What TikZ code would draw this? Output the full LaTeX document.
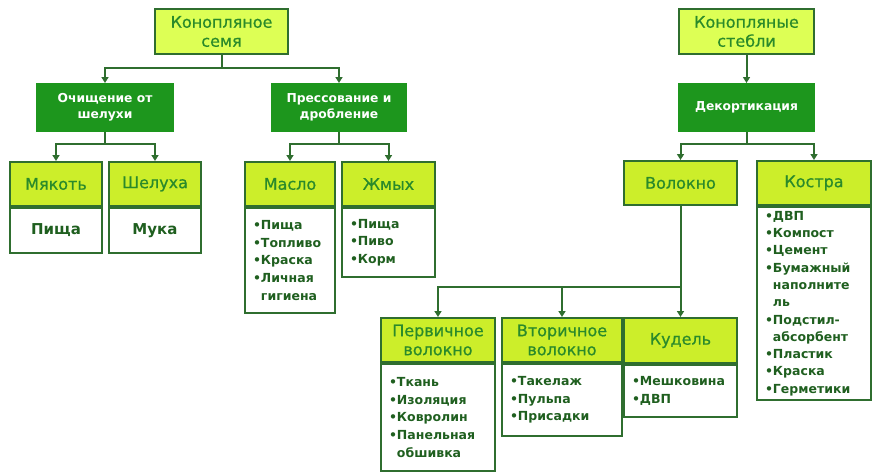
\documentclass[tikz,border=0pt]{standalone}
\usepackage{fontspec}
\setmainfont{DejaVu Sans}
\newfontfamily\hdrf[FakeBold=0.7]{DejaVu Sans}
\usetikzlibrary{arrows.meta}
\definecolor{bord}{HTML}{2F6E2F}
\definecolor{topfill}{HTML}{DDFF55}
\definecolor{hdrfill}{HTML}{CCEE2A}
\definecolor{procfill}{HTML}{1D961D}
\definecolor{hdrtext}{HTML}{2A8A2A}
\definecolor{bodytext}{HTML}{1F5F1F}
\newcommand\bl{•}
\newcommand\ind{\hphantom{•}}
\tikzset{
  boxbase/.style={anchor=north west, inner sep=0pt, line width=2pt},
  topbox/.style={boxbase, draw=bord, fill=topfill, text=hdrtext, align=center,
    font=\hdrf\fontsize{16}{19}\selectfont},
  procbox/.style={boxbase, draw=procfill, fill=procfill, text=white, align=center,
    font=\fontsize{12.3}{16.5}\selectfont\bfseries},
  hdrbox/.style={boxbase, draw=bord, fill=hdrfill, text=hdrtext, align=center,
    font=\hdrf\fontsize{16}{19}\selectfont},
  listbox/.style={boxbase, draw=bord, fill=white, text=bodytext, align=left,
    inner xsep=8pt, font=\fontsize{12.5}{17.6}\selectfont\bfseries},
  simplebox/.style={boxbase, draw=bord, fill=white, text=bodytext, align=center,
    font=\fontsize{15}{18}\selectfont\bfseries},
  conn/.style={draw=bord, line width=2pt},
  arr/.style={conn, -{Triangle[length=6pt,width=7pt]}},
}
\begin{document}
\begin{tikzpicture}[x=1pt,y=-1pt]
\useasboundingbox[fill=white] (0,0) rectangle (879,474);

% top level
\node[topbox, minimum width=133pt, minimum height=45pt] (seed) at (154,8) {Конопляное\\семя};
\node[topbox, minimum width=135pt, minimum height=45pt] (stem) at (678,8) {Конопляные\\стебли};

% process boxes
\node[procbox, minimum width=136pt, minimum height=47pt] (clean) at (36,83) {Очищение от\\шелухи};
\node[procbox, minimum width=134pt, minimum height=47pt] (press) at (271,83) {Прессование и\\дробление};
\node[procbox, minimum width=135pt, minimum height=47pt] (decort) at (678,83) {Декортикация};

% products of seed
\node[hdrbox, minimum width=92pt, minimum height=44pt] (myak) at (9,161) {Мякоть};
\node[simplebox, minimum width=92pt, minimum height=45pt] (myakb) at (myak.south west) {Пища};
\node[hdrbox, minimum width=92pt, minimum height=44pt] (shel) at (108,161) {Шелуха};
\node[simplebox, minimum width=92pt, minimum height=45pt] (shelb) at (shel.south west) {Мука};

\node[hdrbox, minimum width=90pt, minimum height=44pt] (maslo) at (244,161) {Масло};
\node[listbox, text width=74pt, minimum height=105pt] (maslob) at (maslo.south west)
  {\bl Пища\\ \bl Топливо\\ \bl Краска\\ \bl Личная\\ \ind гигиена};
\node[hdrbox, minimum width=93pt, minimum height=44pt] (zhmyh) at (341,161) {Жмых};
\node[listbox, text width=77pt, minimum height=69pt] (zhmyhb) at (zhmyh.south west)
  {\bl Пища\\ \bl Пиво\\ \bl Корм};

% products of stems
\node[hdrbox, minimum width=113pt, minimum height=44pt] (vol) at (623,160) {Волокно};
\node[hdrbox, minimum width=114pt, minimum height=44pt] (kostra) at (756,160) {Костра};
\node[listbox, text width=98pt, minimum height=193pt, font=\fontsize{12.5}{17.3}\selectfont\bfseries] (kostrab) at (kostra.south west)
  {\bl ДВП\\ \bl Компост\\ \bl Цемент\\ \bl Бумажный\\ \ind наполните\\ \ind ль\\
   \bl Подстил-\\ \ind абсорбент\\ \bl Пластик\\ \bl Краска\\ \bl Герметики};

% fibre products
\node[hdrbox, minimum width=114pt, minimum height=44pt] (perv) at (380,317) {Первичное\\волокно};
\node[listbox, text width=98pt, minimum height=107pt] (pervb) at (perv.south west)
  {\bl Ткань\\ \bl Изоляция\\ \bl Ковролин\\ \bl Панельная\\ \ind обшивка};
\node[hdrbox, minimum width=120pt, minimum height=44pt] (vtor) at (501,317) {Вторичное\\волокно};
\node[listbox, text width=104pt, minimum height=72pt] (vtorb) at (vtor.south west)
  {\bl Такелаж\\ \bl Пульпа\\ \bl Присадки};
\node[hdrbox, minimum width=113pt, minimum height=45pt] (kudel) at (623,317) {Кудель};
\node[listbox, text width=97pt, minimum height=52pt] (kudelb) at (kudel.south west)
  {\bl Мешковина\\ \bl ДВП};

% junction levels
\coordinate (j1) at (0,68);
\coordinate (j2) at (0,144);
\coordinate (j3) at (0,287);

% connectors
\draw[conn] (seed.south) -- (seed.south |- j1);
\draw[arr] (seed.south |- j1) -| (clean.north);
\draw[arr] (seed.south |- j1) -| (press.north);

\draw[conn] (clean.south) -- (clean.south |- j2);
\draw[arr] (clean.south |- j2) -| (myak.north);
\draw[arr] (clean.south |- j2) -| (shel.north);

\draw[conn] (press.south) -- (press.south |- j2);
\draw[arr] (press.south |- j2) -| (maslo.north);
\draw[arr] (press.south |- j2) -| (zhmyh.north);

\draw[arr] (stem.south) -- (decort.north);

\draw[conn] (decort.south) -- (decort.south |- j2);
\draw[arr] (decort.south |- j2) -| (vol.north);
\draw[arr] (decort.south |- j2) -| (kostra.north);

\draw[arr] (vol.south) -- (kudel.north);
\draw[arr] (vol.south |- j3) -| (perv.north);
\draw[arr] (vol.south |- j3) -| (vtor.north);
\end{tikzpicture}
\end{document}
